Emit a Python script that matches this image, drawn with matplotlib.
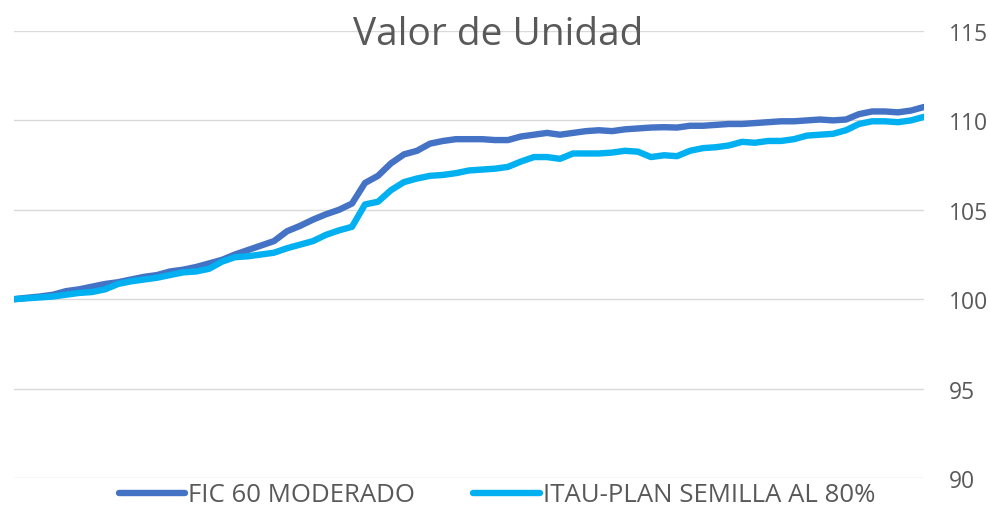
import matplotlib
matplotlib.use("Agg")
import matplotlib.pyplot as plt

# Unit value series (index base 100)
fic60_moderado = [
    100.0, 100.08, 100.15, 100.25, 100.45, 100.55, 100.7, 100.85, 100.95, 101.1,
    101.25, 101.35, 101.55, 101.65, 101.8, 102.0, 102.2, 102.5, 102.75, 103.0,
    103.25, 103.8, 104.1, 104.45, 104.75, 105.0, 105.35, 106.5, 106.9, 107.6,
    108.1, 108.3, 108.7, 108.85, 108.95, 108.95, 108.95, 108.9, 108.9, 109.1,
    109.2, 109.3, 109.2, 109.3, 109.4, 109.45, 109.4, 109.5, 109.55, 109.6,
    109.62, 109.6, 109.7, 109.7, 109.75, 109.8, 109.8, 109.85, 109.9, 109.95,
    109.95, 110.0, 110.05, 110.0, 110.05, 110.35, 110.5, 110.5, 110.45, 110.55,
    110.75,
]
itau_semilla_80 = [
    100.0, 100.05, 100.1, 100.15, 100.25, 100.35, 100.4, 100.55, 100.85, 101.0,
    101.1, 101.2, 101.35, 101.5, 101.55, 101.7, 102.1, 102.35, 102.4, 102.5,
    102.6, 102.85, 103.05, 103.25, 103.6, 103.85, 104.05, 105.3, 105.45, 106.1,
    106.55, 106.75, 106.9, 106.95, 107.05, 107.2, 107.25, 107.3, 107.4, 107.7,
    107.95, 107.95, 107.85, 108.15, 108.15, 108.15, 108.2, 108.3, 108.25, 107.95,
    108.05, 108.0, 108.3, 108.45, 108.5, 108.6, 108.8, 108.75, 108.85, 108.85,
    108.95, 109.15, 109.2, 109.25, 109.45, 109.8, 109.95, 109.95, 109.9, 110.0,
    110.2,
]
series_names = ["FIC 60 MODERADO", "ITAU-PLAN SEMILLA AL 80%"]
y_ticks = [90, 95, 100, 105, 110, 115]
title = "Valor de Unidad"

FONT = ["Open Sans", "DejaVu Sans"]
TEXT_COLOR = "#595959"

fig = plt.figure(figsize=(9.89, 5.10), dpi=100)
ax = fig.add_axes([14 / 989, 31 / 510, (924 - 14) / 989, (479 - 32) / 510])

x = list(range(len(fic60_moderado)))
l1, = ax.plot(x, fic60_moderado, color="#4472C4", lw=4.6, solid_capstyle="round")
l2, = ax.plot(list(range(len(itau_semilla_80))), itau_semilla_80,
              color="#00B0F0", lw=4.6, solid_capstyle="round")

ax.set_xlim(0, len(x) - 1)
ax.set_ylim(y_ticks[0], y_ticks[-1])
ax.set_yticks(y_ticks)
ax.set_xticks([])
ax.yaxis.tick_right()
ax.tick_params(axis="y", length=0, pad=18, labelsize=16.5, labelcolor=TEXT_COLOR)
for lab in ax.get_yticklabels():
    lab.set_fontfamily(FONT)
ax.grid(axis="y", color="#D9D9D9", lw=1)
ax.set_axisbelow(True)
for s in ax.spines.values():
    s.set_visible(False)

fig.text(498 / 989, 1 - 45 / 510, title, ha="center", va="baseline",
         fontsize=28, color=TEXT_COLOR, family=FONT)

fig.legend([l1, l2], series_names, loc="center", bbox_to_anchor=(497 / 989, 1 - 496 / 510),
           ncol=2, frameon=False, handlelength=2.6, handletextpad=0.12,
           columnspacing=2.25, prop={"family": FONT, "size": 18.5},
           labelcolor=TEXT_COLOR)

fig.savefig("out.png", dpi=100, facecolor="white")
